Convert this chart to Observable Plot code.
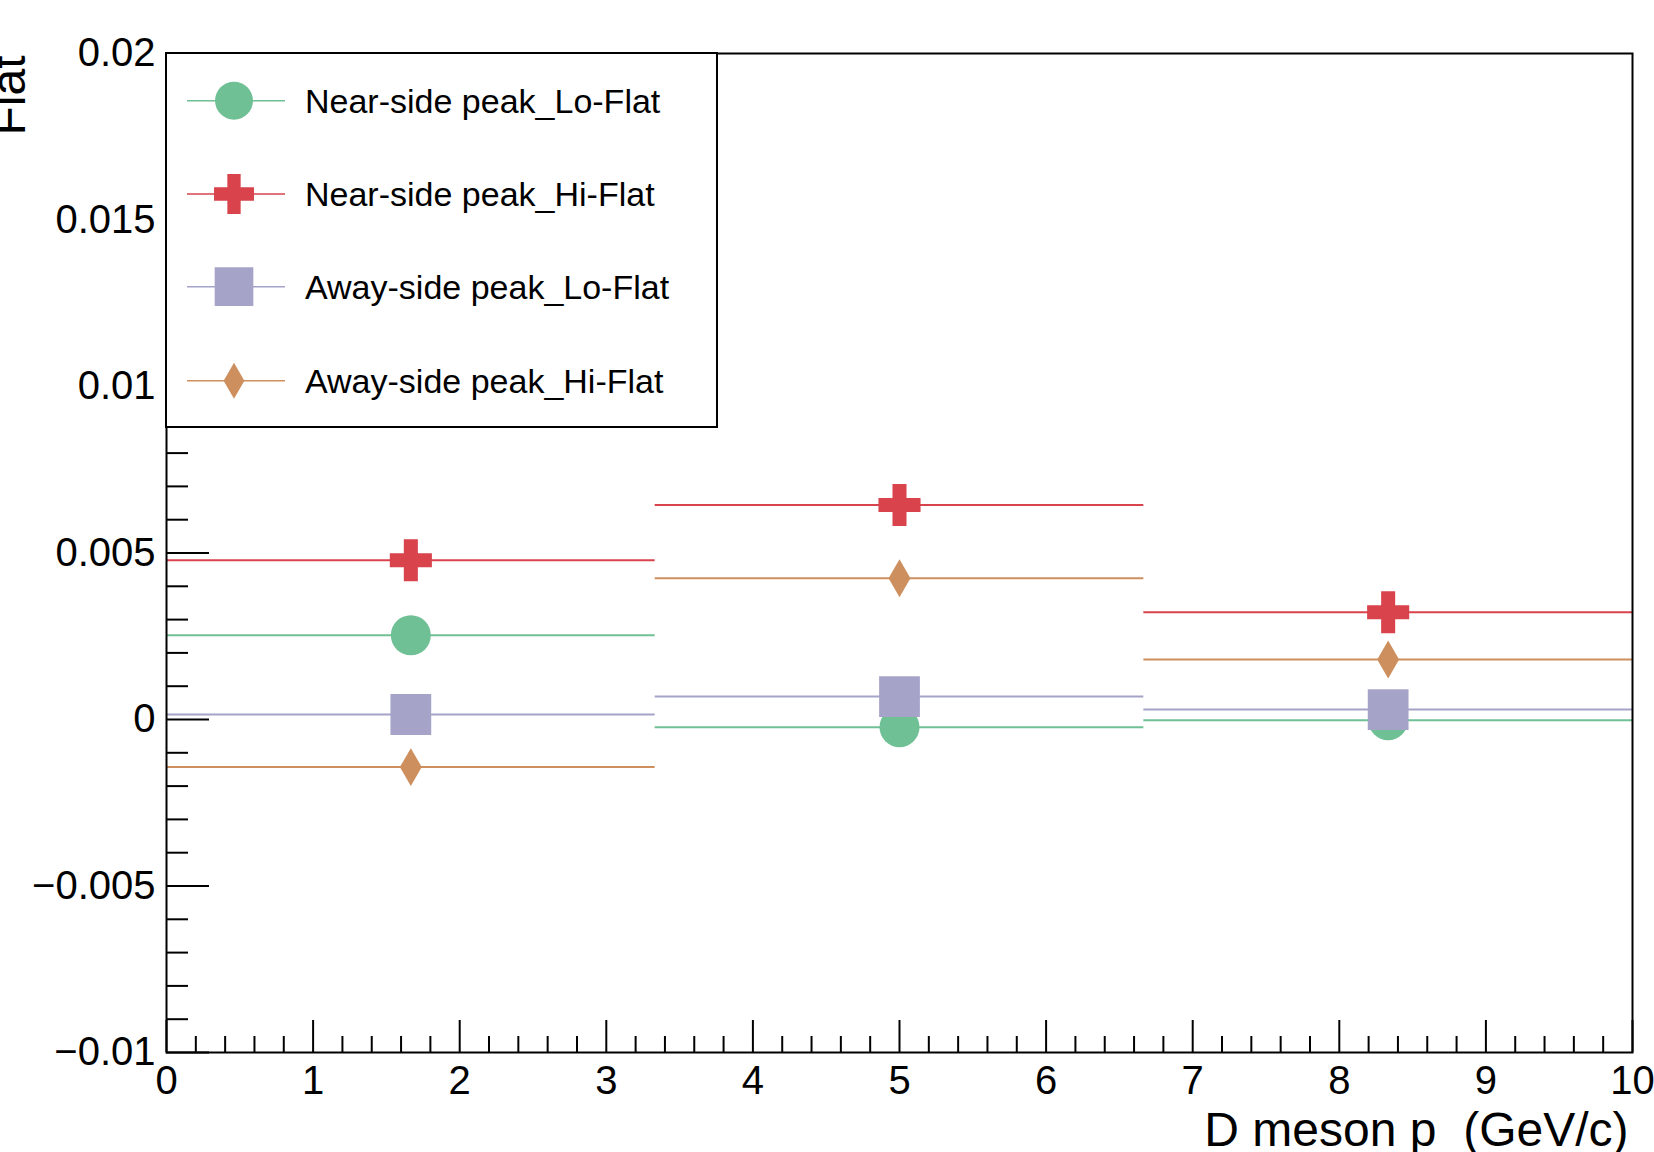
<!DOCTYPE html>
<html>
<head>
<meta charset="utf-8">
<script src="https://cdn.jsdelivr.net/npm/d3@7"></script>
<script src="https://cdn.jsdelivr.net/npm/@observablehq/plot@0.6"></script>
<style>
  html, body { margin: 0; padding: 0; background: white; }
  #wrap { position: relative; width: 1654px; height: 1152px; overflow: hidden; }
  #legend { position: absolute; left: 0; top: 0; pointer-events: none; }
</style>
</head>
<body>
<div id="wrap"></div>
<script>
// ---- data ----
const binLow = [0, 3.3333, 6.6667];
const binHigh = [3.3333, 6.6667, 10];
const binCenter = [1.6667, 5, 8.3333];

const seriesNames = ["Near-side peak_Lo-Flat", "Near-side peak_Hi-Flat", "Away-side peak_Lo-Flat", "Away-side peak_Hi-Flat"];
const nearLo = [0.00253, -0.00023, -0.00002];
const nearHi = [0.00478, 0.00644, 0.00322];
const awayLo = [0.00015, 0.00069, 0.0003];
const awayHi = [-0.00143, 0.00424, 0.0018];

const seriesColors = ["#6fc094", "#d8434c", "#a6a3c8", "#cd8f5e"];
const seriesSymbols = ["circle", "cross", "square", "diamond"];
const seriesR = [20, 17.7, 23, 11.5];

const xMajor = [0, 1, 2, 3, 4, 5, 6, 7, 8, 9, 10];
const xTickLabels = ["0", "1", "2", "3", "4", "5", "6", "7", "8", "9", "10"];
const yMajor = [-0.01, -0.005, 0, 0.005, 0.01, 0.015, 0.02];
const yTickLabels = ["\u22120.01", "\u22120.005", "0", "0.005", "0.01", "0.015", "0.02"];
const xTitle = "D meson p_(GeV/c)";
const yTitle = "Flat";

// ---- build ----
const seriesValues = [nearLo, nearHi, awayLo, awayHi];
const tables = seriesValues.map(vals => vals.map((v, i) => ({lo: binLow[i], hi: binHigh[i], c: binCenter[i], v})));

const xMinor = d3.range(0, 50).map(i => +(i * 0.2).toFixed(1)).filter(d => !xMajor.includes(d) && d < 10);
const yMinor = d3.range(0, 31).map(i => +(-0.01 + i * 0.001).toFixed(4)).filter(d => !yMajor.some(m => Math.abs(m - d) < 1e-9));

const W = 1654, H = 1152, mL = 166, mR = 22, mT = 53, mB = 100;
const innerW = W - mL - mR, innerH = H - mT - mB;

const marks = [];
tables.forEach((t, k) => {
  marks.push(Plot.ruleY(t, {y: "v", x1: "lo", x2: "hi", stroke: seriesColors[k], strokeWidth: 2}));
  marks.push(Plot.dot(t, {x: "c", y: "v", symbol: seriesSymbols[k], r: seriesR[k], fill: seriesColors[k], stroke: "none"}));
});

const chart = Plot.plot({
  width: W, height: H,
  marginLeft: mL, marginRight: mR, marginTop: mT, marginBottom: mB,
  style: {fontFamily: "'Liberation Sans', Arial, Helvetica, sans-serif", background: "white", color: "black", overflow: "visible"},
  x: {domain: [0, 10], axis: null},
  y: {domain: [-0.01, 0.02], axis: null},
  marks: [
    ...marks,
    Plot.tickY(yMinor, {y: d => d, insetRight: innerW - 22, stroke: "black", strokeWidth: 2}),
    Plot.tickY(yMajor, {y: d => d, insetRight: innerW - 43, stroke: "black", strokeWidth: 2}),
    Plot.tickX(xMinor, {x: d => d, insetTop: innerH - 16, stroke: "black", strokeWidth: 2}),
    Plot.tickX(xMajor, {x: d => d, insetTop: innerH - 32, stroke: "black", strokeWidth: 2}),
    Plot.axisY({ticks: yMajor, tickSize: 0, tickPadding: 11, fontSize: 40, label: null,
      tickFormat: d => yTickLabels[yMajor.findIndex(m => Math.abs(m - d) < 1e-9)]}),
    Plot.axisX({ticks: xMajor, tickSize: 0, tickPadding: 13, fontSize: 40, label: null,
      tickFormat: d => xTickLabels[xMajor.indexOf(d)]}),
    Plot.frame({stroke: "black", strokeWidth: 2}),
    Plot.text([xTitle], {frameAnchor: "bottom-right", textAnchor: "end", lineAnchor: "bottom", dx: -4, dy: 93, fontSize: 48, fill: "black"}),
    Plot.text([yTitle], {frameAnchor: "top-left", rotate: -90, textAnchor: "end", lineAnchor: "bottom", dx: -142, dy: 2, fontSize: 48, fill: "black"})
  ]
});
const wrap = document.getElementById("wrap");
wrap.appendChild(chart);

// ---- legend overlay ----
const leg = d3.select(wrap).append("svg").attr("id", "legend").attr("width", W).attr("height", H)
  .style("font-family", "'Liberation Sans', Arial, Helvetica, sans-serif");
leg.append("rect").attr("x", 166).attr("y", 53).attr("width", 551).attr("height", 374)
  .attr("fill", "white").attr("stroke", "black").attr("stroke-width", 2);
const rowY = [100.7, 194, 286.7, 380.7];
const symMap = {circle: d3.symbolCircle, cross: d3.symbolCross, square: d3.symbolSquare, diamond: d3.symbolDiamond};
seriesNames.forEach((name, k) => {
  const y = rowY[k];
  leg.append("line").attr("x1", 187).attr("x2", 285).attr("y1", y).attr("y2", y)
    .attr("stroke", seriesColors[k]).attr("stroke-width", 1.6);
  leg.append("path").attr("transform", `translate(234,${y})`)
    .attr("d", d3.symbol(symMap[seriesSymbols[k]], Math.PI * seriesR[k] * seriesR[k] * 0.9)())
    .attr("fill", seriesColors[k]);
  leg.append("text").attr("x", 305).attr("y", y).attr("dy", "0.35em")
    .attr("font-size", 34).attr("fill", "black").text(name);
});
</script>
</body>
</html>
